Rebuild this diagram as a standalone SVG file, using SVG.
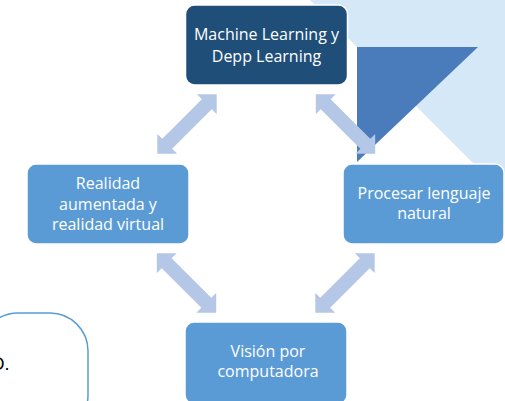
<svg xmlns="http://www.w3.org/2000/svg" width="505" height="401" viewBox="0 0 505 401">
<defs>
<style>
.node{stroke:#ffffff;stroke-width:1.5}
.dark{fill:#1f4e79}
.mid{fill:#5b9bd5}
.lbl{font-family:"Open Sans","Liberation Sans",sans-serif;font-size:16px;fill:#ffffff;text-anchor:middle}
.arr{fill:#b4c7e7}
</style>
<polygon id="dbl" points="-42,0 -28,-14 -28,-7 28,-7 28,-14 42,0 28,14 28,7 -28,7 -28,14"/>
</defs>
<rect width="505" height="401" fill="#ffffff"/>
<g id="background">
<polygon points="310,0 505,0 505,195" fill="#d5e8f8"/>
<polygon points="357,47 478,47 357,162" fill="#4a7cbb"/>
<rect x="-20" y="313" width="108" height="120" rx="38" ry="38" fill="none" stroke="#5b9bd5" stroke-width="1.5"/>
<text x="-8.6" y="370" font-family="Liberation Sans, sans-serif" font-size="18" fill="#000000">D.</text>
</g>
<g id="connectors" class="arr">
<use href="#dbl" transform="translate(187,124) rotate(-45)"/>
<use href="#dbl" transform="translate(345.5,124) rotate(45)"/>
<use href="#dbl" transform="translate(186.5,283) rotate(45)"/>
<use href="#dbl" transform="translate(345,283) rotate(-45)"/>
</g>
<g id="node-ml">
<rect class="node dark" x="185.5" y="5" width="162" height="80" rx="9"/>
<text class="lbl" x="266.5" y="40">Machine Learning y</text>
<text class="lbl" x="266.5" y="62">Depp Learning</text>
</g>
<g id="node-ra">
<rect class="node mid" x="27" y="164" width="162" height="80" rx="9"/>
<text class="lbl" x="108" y="189">Realidad</text>
<text class="lbl" x="108" y="210">aumentada y</text>
<text class="lbl" x="108" y="230">realidad virtual</text>
</g>
<g id="node-pln">
<rect class="node mid" x="343" y="164" width="161" height="80" rx="9"/>
<text class="lbl" x="424" y="199">Procesar lenguaje</text>
<text class="lbl" x="424" y="219">natural</text>
</g>
<g id="node-vc">
<rect class="node mid" x="185" y="322" width="162" height="82" rx="9"/>
<text class="lbl" x="268" y="357">Visión por</text>
<text class="lbl" x="268" y="377">computadora</text>
</g>
</svg>
